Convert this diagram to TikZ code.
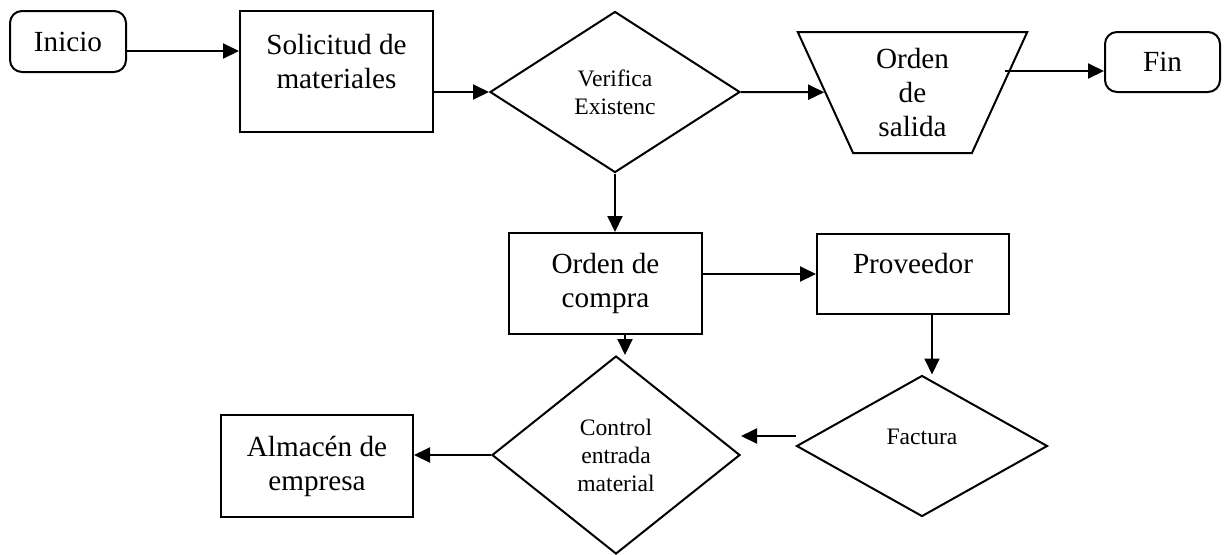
\documentclass[tikz,border=0pt]{standalone}
\usepackage{fontspec}
\setmainfont{Liberation Serif}
\usetikzlibrary{arrows.meta,positioning,calc,shapes.geometric}

\newcommand{\bigtxt}{\fontsize{14.6pt}{17pt}\selectfont}
\newcommand{\smalltxt}{\fontsize{11.8pt}{14pt}\selectfont}

\begin{document}
\begin{tikzpicture}[x=0.5pt,y=-0.5pt,line width=1pt,font=\bigtxt,
  box/.style={draw,rectangle,align=center,inner sep=0pt},
  term/.style={box,rounded corners=6pt},
  decision/.style={draw,diamond,align=center,inner sep=0pt,font=\smalltxt},
  arr/.style={-{Triangle[length=8pt,width=7.5pt]}}]
\useasboundingbox (0,0) rectangle (1226,554);   % page frame
% top row
\node[term,minimum width=58pt,minimum height=30.5pt] (inicio) at (68,41.5) {Inicio};
\node[box,minimum width=96.5pt,minimum height=60.5pt,
      label={[align=center,yshift=4.75pt]center:Solicitud de\\materiales}] (sol) at (336.5,71.5) {};
\node[decision,minimum width=125pt,minimum height=80.5pt] (verif) at (615,92) {Verifica\\Existenc};
\node[draw,trapezium,trapezium left angle=69,trapezium right angle=69,
      shape border rotate=180,trapezium stretches=true,inner sep=0pt,align=center,
      minimum width=115.5pt,minimum height=60.5pt] (salida) at (912.5,92.5) {Orden\\de\\salida};
\node[term,minimum width=57.5pt,minimum height=30pt] (fin) at (1162.5,62) {Fin};
% middle row
\node[box,minimum width=96.5pt,minimum height=50.5pt] (compra) at (605.5,283.5) {Orden de\\compra};
\node[box,minimum width=96pt,minimum height=40pt,
      label={[yshift=5.5pt]center:Proveedor}] (prov) at (913,274) {};
% bottom row
\node[decision,minimum width=125.5pt,minimum height=70.5pt,
      label={[font=\smalltxt,yshift=4.5pt]center:Factura}] (fact) at (922,446) {};
\node[decision,minimum width=124pt,minimum height=99pt] (ctrl) at (616,455) {Control\\entrada\\material};
\node[box,minimum width=96pt,minimum height=51pt] (alm) at (317,466) {Almac\'en de\\empresa};
% connectors
\coordinate (finin) at ([yshift=-4.5pt]fin.west);
\draw[arr] ([yshift=-4.75pt]inicio.east) -- ([yshift=-4.75pt]inicio.east -| sol.west);
\draw[arr] (sol.east |- verif.west) -- (verif.west);
\draw[arr] (verif.east) -- (salida);
\draw[arr] ([xshift=2pt]salida.east |- finin) -- (finin);
\draw[arr] (verif.south) -- (verif.south |- compra.north);
\draw[arr] (compra.east |- prov.west) -- (prov.west);
\draw[arr] ([xshift=9.5pt]prov.south) -- ([xshift=9.5pt]prov.south |- fact.north);
\draw[arr] ([xshift=9.75pt]compra.south) -- ([xshift=9.75pt]compra.south |- ctrl.north);
\draw[arr] ([yshift=5pt]fact.west) -- ([yshift=5pt]fact.west -| ctrl.east);
\draw[arr] (ctrl.west) -- (ctrl.west -| alm.east);
\end{tikzpicture}
\end{document}
